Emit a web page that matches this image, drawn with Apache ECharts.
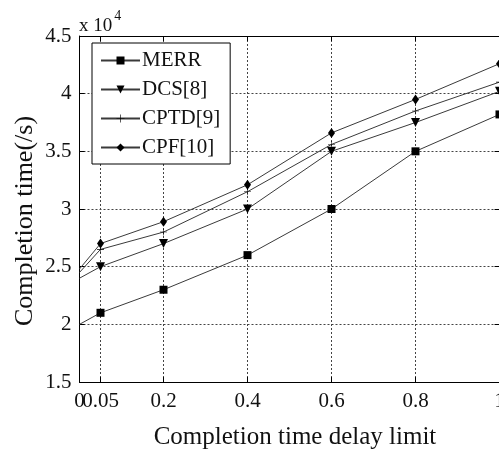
<!DOCTYPE html>
<html>
<head>
<meta charset="utf-8">
<script src="https://cdn.jsdelivr.net/npm/echarts@6/dist/echarts.min.js"></script>
<style>
html,body{margin:0;padding:0;background:#fff;}
#c{width:499px;height:452px;}
</style>
</head>
<body>
<div id="c"></div>
<script>
const xValues = [0, 0.05, 0.2, 0.4, 0.6, 0.8, 1];
const xTickValues = [0, 0.05, 0.2, 0.4, 0.6, 0.8, 1];
const xLabelValuesMain = [0.05, 0.2, 0.4, 0.6, 0.8, 1];
const xLabelValuesZero = [0];
const seriesNames = ['MERR', 'DCS[8]', 'CPTD[9]', 'CPF[10]'];
const merr = [2.0, 2.1, 2.3, 2.6, 3.0, 3.5, 3.82];
const dcs = [2.4, 2.5, 2.7, 3.0, 3.5, 3.75, 4.02];
const cptd = [2.45, 2.65, 2.8, 3.15, 3.56, 3.85, 4.1];
const cpf = [2.48, 2.7, 2.89, 3.21, 3.66, 3.95, 4.26];

const FONT = '"Liberation Serif", "DejaVu Serif", serif';
const starPath = 'path://M4.6,0H5.4V4.6H10V5.4H5.4V10H4.6V5.4H0V4.6H4.6Z';

function toData(vals) {
  return xValues.map((x, i) => i === 0 ? {value: [x, vals[i]], symbol: 'none'} : [x, vals[i]]);
}

const symbols = [
  {symbol: 'rect', size: 8},
  {symbol: 'triangle', size: [9, 9], rotate: 180},
  {symbol: starPath, size: 7},
  {symbol: 'diamond', size: [7, 10]}
];
const allVals = [merr, dcs, cptd, cpf];

const chart = echarts.init(document.getElementById('c'), null, {renderer: 'canvas'});
const series = seriesNames.map((name, k) => ({
  name: name,
  type: 'line',
  data: toData(allVals[k]),
  symbol: symbols[k].symbol,
  symbolSize: symbols[k].size,
  symbolRotate: symbols[k].rotate || 0,
  showAllSymbol: true,
  lineStyle: {color: '#3a3a3a', width: 1},
  itemStyle: {color: '#000', borderWidth: 0},
  emphasis: {disabled: true},
  animation: false,
  z: 3
}));

const gridLine = {show: true, lineStyle: {color: '#444', width: 1, type: [2, 2]}};
const axisLineStyle = {show: true, onZero: false, lineStyle: {color: '#000', width: 1}};
const labelStyle = {color: '#111', fontFamily: FONT, fontSize: 21, margin: 9, hideOverlap: false,
  showMinLabel: true, showMaxLabel: true, formatter: v => String(v)};

chart.setOption({
  backgroundColor: '#fff',
  animation: false,
  grid: {left: 79.5, top: 36, right: -0.5, bottom: 70, outerBoundsMode: 'none', containLabel: false},
  xAxis: [{
    type: 'value', min: 0, max: 1, position: 'bottom',
    axisLine: axisLineStyle,
    axisTick: {show: true, inside: true, length: 5, customValues: xTickValues, lineStyle: {color: '#000'}},
    axisLabel: Object.assign({show: true, customValues: xLabelValuesMain}, labelStyle),
    splitLine: gridLine
  }, {
    type: 'value', min: 0, max: 1, position: 'top',
    axisLine: axisLineStyle,
    axisTick: {show: true, inside: true, length: 5, customValues: xTickValues, lineStyle: {color: '#000'}},
    axisLabel: {show: false},
    splitLine: {show: false}
  }, {
    type: 'value', min: 0, max: 1, position: 'bottom', offset: 0,
    axisLine: {show: false},
    axisTick: {show: false},
    axisLabel: Object.assign({show: true, customValues: xLabelValuesZero}, labelStyle),
    splitLine: {show: false}
  }],
  yAxis: [{
    type: 'value', min: 1.5, max: 4.5, interval: 0.5, position: 'left',
    axisLine: axisLineStyle,
    axisTick: {show: true, inside: true, length: 5, lineStyle: {color: '#000'}},
    axisLabel: {color: '#111', fontFamily: FONT, fontSize: 21, margin: 8, formatter: v => String(v)},
    splitLine: gridLine
  }, {
    type: 'value', min: 1.5, max: 4.5, interval: 0.5, position: 'right',
    axisLine: axisLineStyle,
    axisTick: {show: true, inside: true, length: 5, lineStyle: {color: '#000'}},
    axisLabel: {show: false},
    splitLine: {show: false}
  }],
  legend: {
    orient: 'vertical', left: 92, top: 43,
    data: seriesNames,
    backgroundColor: '#fff', borderColor: '#000', borderWidth: 1,
    padding: [7, 10, 6, 8], itemGap: 8, itemWidth: 39, itemHeight: 10,
    textStyle: {fontFamily: FONT, fontSize: 21, color: '#111', padding: [0, 0, 0, -3]},
    selectedMode: false
  },
  graphic: [
    {type: 'text', left: 79, top: 9, style: {
      text: '{a|x 10}{b|4}', rich: {
        a: {fontFamily: FONT, fontSize: 19, fill: '#111', padding: [8, 0, 0, 0]},
        b: {fontFamily: FONT, fontSize: 14, fill: '#111', verticalAlign: 'top', padding: [0, 0, 10, 2]}
      }}},
    {type: 'text', x: 295, y: 437, style: {text: 'Completion time delay limit', fontFamily: FONT, fontSize: 25, fill: '#111', align: 'center', verticalAlign: 'middle'}},
    {type: 'text', x: 25, y: 221, rotation: Math.PI / 2, style: {text: 'Completion time(/s)', fontFamily: FONT, fontSize: 26, fill: '#111', align: 'center', verticalAlign: 'middle'}}
  ],
  series: series
});
</script>
</body>
</html>
